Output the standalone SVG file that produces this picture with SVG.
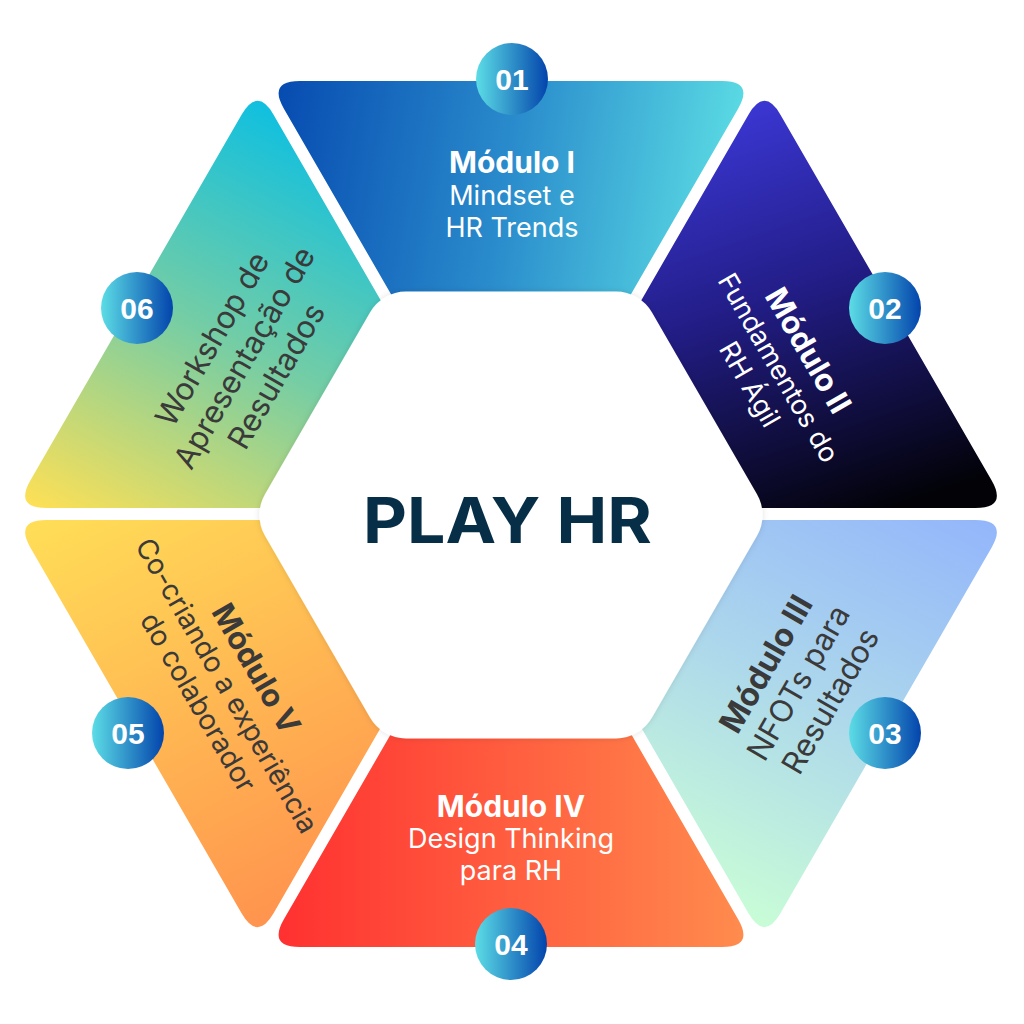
<svg xmlns="http://www.w3.org/2000/svg" width="1024" height="1024" viewBox="0 0 1024 1024">
<style>
.b{font-family:Inter,"Liberation Sans",sans-serif;font-weight:700;text-anchor:middle}
.r{font-family:Inter,"Liberation Sans",sans-serif;font-weight:400;text-anchor:middle}
.w{fill:#ffffff}
.d{fill:#3a3a3a}
.num{font-family:"Liberation Sans",Arial,sans-serif;font-weight:700;font-size:30px;fill:#ffffff;text-anchor:middle}
</style>
<defs>
<path id="wedge" d="M 511 502 L 283.9 108.7 Q 267.9 81 299.9 81 L 722.1 81 Q 754.1 81 738.1 108.7 Z"/>
<linearGradient id="g1" gradientUnits="userSpaceOnUse" x1="268" y1="120" x2="754" y2="200">
<stop offset="0" stop-color="#064ab0"/><stop offset="0.5" stop-color="#2a8ccc"/><stop offset="1" stop-color="#5fe3e6"/>
</linearGradient>
<linearGradient id="g2" gradientUnits="userSpaceOnUse" x1="265.6" y1="131" x2="690.7" y2="214.8">
<stop offset="0" stop-color="#3b37d4"/><stop offset="0.45" stop-color="#221d86"/><stop offset="1" stop-color="#020207"/>
</linearGradient>
<linearGradient id="g3" gradientUnits="userSpaceOnUse" x1="276.7" y1="96.2" x2="736.8" y2="73">
<stop offset="0" stop-color="#93b6fb"/><stop offset="0.5" stop-color="#acd6ec"/><stop offset="1" stop-color="#c8fcd7"/>
</linearGradient>
<linearGradient id="g4" gradientUnits="userSpaceOnUse" x1="752" y1="128" x2="270" y2="128">
<stop offset="0" stop-color="#ff2f30"/><stop offset="1" stop-color="#ff8d4e"/>
</linearGradient>
<linearGradient id="g5" gradientUnits="userSpaceOnUse" x1="737" y1="100.6" x2="281.2" y2="80">
<stop offset="0" stop-color="#ffdd57"/><stop offset="1" stop-color="#ff944e"/>
</linearGradient>
<linearGradient id="g6" gradientUnits="userSpaceOnUse" x1="754" y1="107" x2="280.3" y2="126.4">
<stop offset="0" stop-color="#0bbfe2"/><stop offset="0.5" stop-color="#74cda5"/><stop offset="1" stop-color="#fde056"/>
</linearGradient>
<linearGradient id="gc" x1="0" y1="0" x2="1" y2="0">
<stop offset="0" stop-color="#5cdde6"/><stop offset="1" stop-color="#0344ac"/>
</linearGradient>
<filter id="sh" x="-10%" y="-10%" width="120%" height="120%">
<feDropShadow dx="0" dy="0" stdDeviation="3" flood-color="#000000" flood-opacity="0.12"/>
</filter>
</defs>
<rect width="1024" height="1024" fill="#ffffff"/>

<g id="segments">
<use id="seg01" href="#wedge" fill="url(#g1)"/>
<use id="seg02" href="#wedge" fill="url(#g2)" transform="rotate(60 511 514)"/>
<use id="seg03" href="#wedge" fill="url(#g3)" transform="rotate(120 511 514)"/>
<use id="seg04" href="#wedge" fill="url(#g4)" transform="rotate(180 511 514)"/>
<use id="seg05" href="#wedge" fill="url(#g5)" transform="rotate(240 511 514)"/>
<use id="seg06" href="#wedge" fill="url(#g6)" transform="rotate(300 511 514)"/>
</g>

<g id="center">
<path d="M 406 291.6 L 616 291.6 A 41.6 41.6 0 0 1 652 312.4 L 757 494.2 A 41.6 41.6 0 0 1 757 535.8 L 652 717.6 A 41.6 41.6 0 0 1 616 738.4 L 406 738.4 A 41.6 41.6 0 0 1 370 717.6 L 265 535.8 A 41.6 41.6 0 0 1 265 494.2 L 370 312.4 A 41.6 41.6 0 0 1 406 291.6 Z" fill="#ffffff" filter="url(#sh)"/>
<text x="507.5" y="543" font-family="Inter,'Liberation Sans',sans-serif" font-weight="700" font-size="63" fill="#062f47" text-anchor="middle" textLength="289" lengthAdjust="spacingAndGlyphs">PLAY HR</text>
</g>

<g id="label01">
<text class="b w" x="512" y="173" font-size="30">Módulo I</text>
<text class="r w" x="512" y="205" font-size="27">Mindset e</text>
<text class="r w" x="512" y="237" font-size="27">HR Trends</text>
</g>
<g id="label02" transform="translate(778 368) rotate(60)">
<text class="b w" x="0" y="-24" font-size="31">Módulo II</text>
<text class="r w" x="0" y="9" font-size="27">Fundamentos do</text>
<text class="r w" x="0" y="42" font-size="27">RH Ágil</text>
</g>
<g id="label03" transform="translate(799 683) rotate(-60)">
<text class="b d" x="0" y="-27" font-size="32">Módulo III</text>
<text class="r d" x="0" y="10" font-size="31">NFOTs para</text>
<text class="r d" x="0" y="47" font-size="31">Resultados</text>
</g>
<g id="label04">
<text class="b w" x="511" y="817" font-size="30">Módulo IV</text>
<text class="r w" x="511" y="848" font-size="27">Design Thinking</text>
<text class="r w" x="511" y="880" font-size="27">para RH</text>
</g>
<g id="label05" transform="translate(226 686) rotate(60)">
<text class="b d" x="0" y="-24" font-size="31">Módulo V</text>
<text class="r d" x="0" y="9" font-size="28">Co-criando a experiência</text>
<text class="r d" x="0" y="42" font-size="28">do colaborador</text>
</g>
<g id="label06" transform="translate(245 358) rotate(-60)">
<text class="r d" x="0" y="-27" font-size="31">Workshop de</text>
<text class="r d" x="0" y="10" font-size="31">Apresentação de</text>
<text class="r d" x="0" y="47" font-size="31">Resultados</text>
</g>

<g id="badge01"><circle cx="512" cy="79" r="36" fill="url(#gc)"/><text class="num" x="512" y="90">01</text></g>
<g id="badge02"><circle cx="885" cy="308" r="36" fill="url(#gc)"/><text class="num" x="885" y="319">02</text></g>
<g id="badge03"><circle cx="885" cy="733" r="36" fill="url(#gc)"/><text class="num" x="885" y="744">03</text></g>
<g id="badge04"><circle cx="511" cy="944" r="36" fill="url(#gc)"/><text class="num" x="511" y="955">04</text></g>
<g id="badge05"><circle cx="128" cy="733" r="36" fill="url(#gc)"/><text class="num" x="128" y="744">05</text></g>
<g id="badge06"><circle cx="137" cy="308" r="36" fill="url(#gc)"/><text class="num" x="137" y="319">06</text></g>
</svg>
